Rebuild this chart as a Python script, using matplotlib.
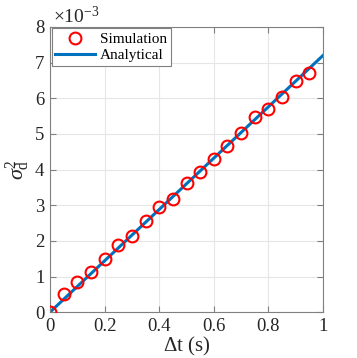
import numpy as np
from matplotlib import pyplot as plt

plt.rcParams['font.family'] = ['Liberation Serif', 'DejaVu Serif']
plt.rcParams['mathtext.fontset'] = 'custom'
plt.rcParams['mathtext.rm'] = 'Liberation Serif'
plt.rcParams['mathtext.it'] = 'Liberation Serif:italic'

# simulated variance vs time step (units of 1e-3)
dt_sim = [0.0, 0.05, 0.1, 0.15, 0.2, 0.25, 0.3, 0.35, 0.4, 0.45,
          0.5, 0.55, 0.6, 0.65, 0.7, 0.75, 0.8, 0.85, 0.9, 0.95]
var_sim = [0.0, 0.50, 0.85, 1.12, 1.49, 1.88, 2.13, 2.56, 2.95, 3.17,
           3.63, 3.94, 4.29, 4.67, 5.03, 5.47, 5.71, 6.04, 6.48, 6.72]
# analytical line end points
dt_ana = [0.0, 1.0]
var_ana = [0.0, 7.2]

fig = plt.figure(figsize=(3.57, 3.58), dpi=100)
ax = fig.add_axes([0.140, 0.128, 0.765, 0.797])

ax.plot(dt_ana, var_ana, color='#0072BD', linewidth=2.2, label='Analytical', zorder=2)
ax.plot(dt_sim, var_sim, 'o', mfc='none', mec='red', mew=1.5, ms=8.5,
        label='Simulation', zorder=3)

ax.set_xlim(0, 1)
ax.set_ylim(0, 8)
ax.set_xticks([0, 0.2, 0.4, 0.6, 0.8, 1])
ax.set_xticklabels(['0', '0.2', '0.4', '0.6', '0.8', '1'])
ax.set_yticks(range(0, 9))
ax.grid(True, color='#e6e6e6', linewidth=0.8)
ax.set_axisbelow(True)
for s in ax.spines.values():
    s.set_color('#808080')
    s.set_linewidth(0.8)
ax.tick_params(direction='in', length=4, color='#808080', labelsize=13.5,
               top=True, right=True, pad=4, labelcolor='#262626')

ax.set_xlabel(r'$\Delta$t (s)', fontsize=15, color='#262626', labelpad=0)
ax.set_ylabel(r'$\sigma_{\mathrm{d}}^{2}$', fontsize=16, color='#262626', labelpad=2)
ax.text(0.01, 1.0, r'$\times 10^{-3}$', transform=ax.transAxes, fontsize=14,
        color='#262626', va='bottom', ha='left')

h, l = ax.get_legend_handles_labels()
leg = ax.legend(h[::-1], l[::-1], loc='upper left', fontsize=11, fancybox=False,
                framealpha=1, edgecolor='#808080', borderpad=0.25,
                handlelength=2.6, labelspacing=0.15, borderaxespad=0.1,
                handletextpad=0.3)
leg.get_frame().set_linewidth(0.8)

fig.savefig('out.png', dpi=100)
